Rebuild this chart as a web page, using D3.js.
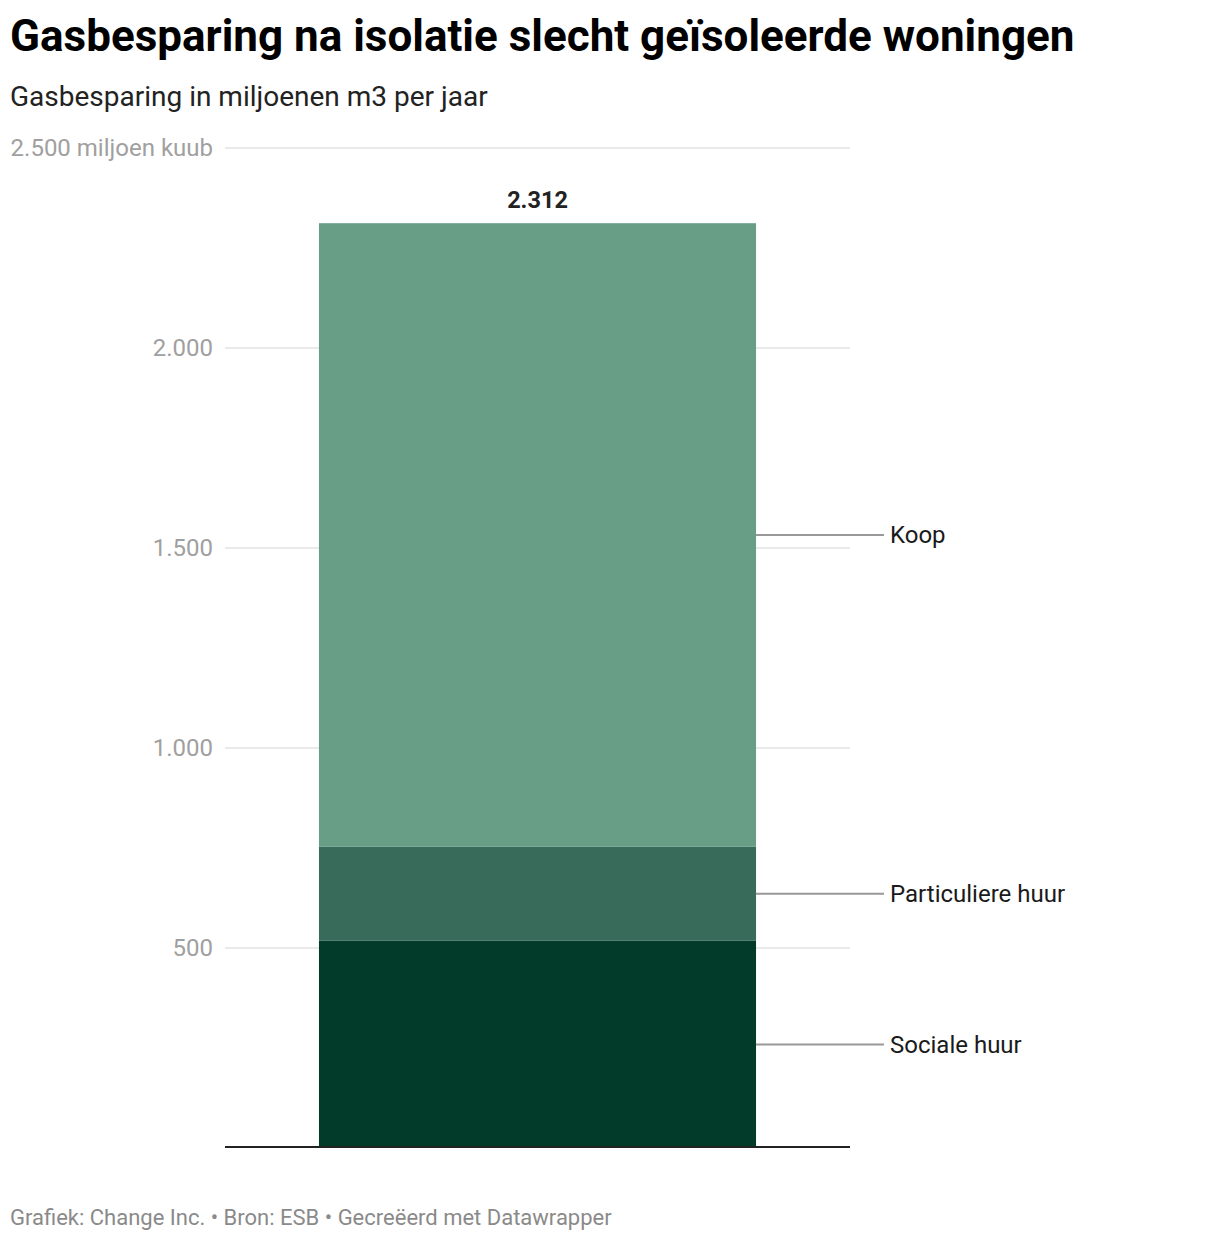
<!DOCTYPE html>
<html>
<head>
<meta charset="utf-8">
<script src="https://cdn.jsdelivr.net/npm/d3@7"></script>
<style>
  body { margin: 0; background: #fff; font-family: Roboto, sans-serif; }
</style>
</head>
<body>
<svg id="chart" width="1220" height="1240"></svg>
<script>
// data
const categories = ["Sociale huur", "Particuliere huur", "Koop"];
const values = [518, 235, 1559];
const colors = ["#033b2b", "#386b59", "#679e85"];
const yTicks = [500, 1000, 1500, 2000, 2500];

const svg = d3.select("#chart");

const plotLeft = 225, plotRight = 850, plotTop = 148, plotBottom = 1148;

const y = d3.scaleLinear().domain([0, 2500]).range([plotBottom, plotTop]);
const x = d3.scaleBand().domain(["bar"]).range([plotLeft, plotRight]).paddingInner(0).paddingOuter(0.215);

const fmt = d3.formatLocale({ decimal: ",", thousands: ".", grouping: [3], currency: ["€", ""] }).format(",d");

svg.append("text")
  .attr("x", 10).attr("y", 51)
  .style("font-size", "44px").style("font-weight", "700").style("fill", "#000")
  .text("Gasbesparing na isolatie slecht geïsoleerde woningen");

svg.append("text")
  .attr("x", 10).attr("y", 106)
  .style("font-size", "28px").style("fill", "#222")
  .text("Gasbesparing in miljoenen m3 per jaar");

// gridlines and tick labels
const grid = svg.append("g");
grid.selectAll("line").data(yTicks).join("line")
  .attr("x1", plotLeft).attr("x2", plotRight)
  .attr("y1", d => y(d)).attr("y2", d => y(d))
  .style("stroke", "#e3e3e3").style("stroke-width", 1.5);

grid.selectAll("text").data(yTicks).join("text")
  .attr("x", 213).attr("y", d => y(d))
  .attr("dy", "0.35em")
  .style("text-anchor", "end")
  .style("font-size", "24px").style("fill", "#a0a0a0")
  .text(d => d === 2500 ? fmt(d) + " miljoen kuub" : fmt(d));

// stacked segments
let acc = 0;
const stack = values.map((v, i) => {
  const s = { name: categories[i], y0: acc, y1: acc + v, color: colors[i] };
  acc += v;
  return s;
});
const total = acc;

const barX = x("bar"), barW = x.bandwidth();

svg.append("g").selectAll("rect").data(stack).join("rect")
  .attr("x", barX).attr("width", barW)
  .attr("y", d => y(d.y1))
  .attr("height", d => y(d.y0) - y(d.y1))
  .style("fill", d => d.color);

// baseline
svg.append("line")
  .attr("x1", plotLeft).attr("x2", plotRight)
  .attr("y1", y(0) - 1).attr("y2", y(0) - 1)
  .style("stroke", "#222").style("stroke-width", 2);

// total label
svg.append("text")
  .attr("x", barX + barW / 2).attr("y", y(total) - 15)
  .style("text-anchor", "middle")
  .style("font-size", "23.5px").style("font-weight", "700").style("fill", "#222")
  .text(fmt(total));

// leader lines and labels
const labels = svg.append("g");
labels.selectAll("line").data(stack).join("line")
  .attr("x1", barX + barW).attr("x2", 884)
  .attr("y1", d => y((d.y0 + d.y1) / 2)).attr("y2", d => y((d.y0 + d.y1) / 2))
  .style("stroke", "#999").style("stroke-width", 2);

labels.selectAll("text").data(stack).join("text")
  .attr("x", 890).attr("y", d => y((d.y0 + d.y1) / 2))
  .attr("dy", "0.35em")
  .style("font-size", "24px").style("fill", "#1a1a1a")
  .text(d => d.name);

svg.append("text")
  .attr("x", 10).attr("y", 1225)
  .style("font-size", "22px").style("fill", "#8a8a8a")
  .text("Grafiek: Change Inc. • Bron: ESB • Gecreëerd met Datawrapper");
</script>
</body>
</html>
